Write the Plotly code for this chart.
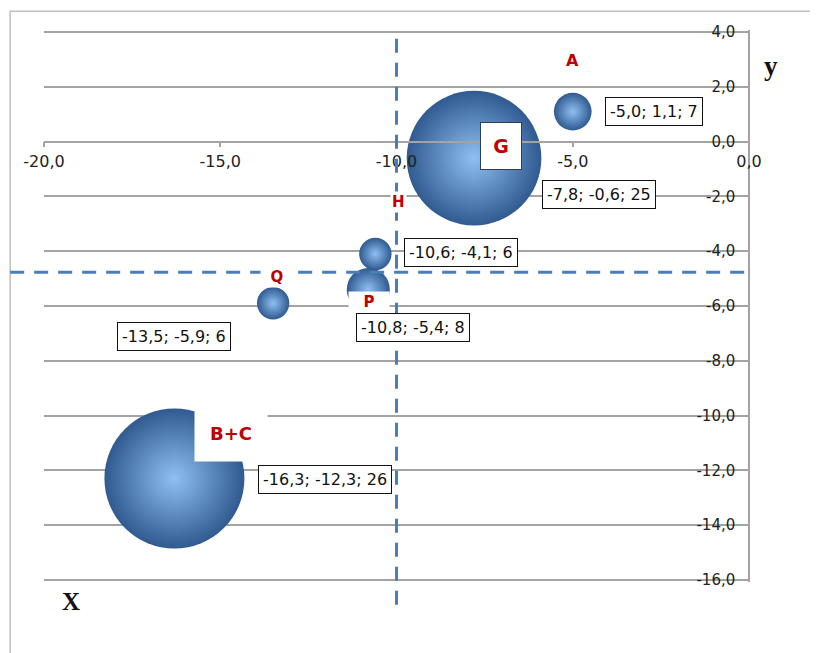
import plotly.graph_objects as go

# ---- data ----
names = ["A", "G", "H", "P", "Q", "B+C"]
x_vals = [-5.0, -7.8, -10.6, -10.8, -13.5, -16.3]
y_vals = [1.1, -0.6, -4.1, -5.4, -5.9, -12.3]
sizes = [7, 25, 6, 8, 6, 26]

x_ticks = [-20, -15, -10, -5, 0]
y_ticks = [4, 2, 0, -2, -4, -6, -8, -10, -12, -14, -16]

x_ref = -10.0    # vertical dashed reference line
y_ref = -4.77    # horizontal dashed reference line


def fmt(v):
    return f"{v:.1f}".replace(".", ",")


x_tick_text = [fmt(v) for v in x_ticks]
y_tick_text = [fmt(v) for v in y_ticks]

x_range = [-20, 0]
y_range = [-16.08, 4.08]
x_axis_pos = (0 - y_range[0]) / (y_range[1] - y_range[0])

# label styling / placement (pixel shifts relative to bubble centre)
name_style = {
    "A":   dict(size=16, dx=0,  dy=51,  w=None, h=None, border=False),
    "G":   dict(size=19, dx=27, dy=12,  w=38,   h=44,   border=True),
    "H":   dict(size=15, dx=23, dy=52,  w=None, h=None, border=False),
    "P":   dict(size=15, dx=1,  dy=-12, w=38,   h=18,   border=False),
    "Q":   dict(size=15, dx=4,  dy=26,  w=30,   h=None, border=False),
    "B+C": dict(size=18, dx=57, dy=46,  w=70,   h=54,   border=False),
}
value_shift = {
    "A": (81, 0), "G": (125, -36), "H": (86, 1),
    "P": (45, -38), "Q": (-99, -33), "B+C": (151, -1),
}

grid_col = "#a3a3a3"
font_fam = "DejaVu Sans"

fig = go.Figure()
fig.add_trace(go.Scatter(
    x=x_vals, y=y_vals, mode="markers",
    marker=dict(
        size=sizes, sizemode="diameter", sizeref=26 / 140,
        color="#305a90",
        gradient=dict(type="radial", color="#8fc0f2"),
        line=dict(width=0), opacity=1,
    ),
    hoverinfo="skip", showlegend=False,
))

annotations = []
for n, xv, yv, s in zip(names, x_vals, y_vals, sizes):
    st = name_style[n]
    a = dict(x=xv, y=yv, xref="x", yref="y", text=f"<b>{n}</b>",
             showarrow=False, xshift=st["dx"], yshift=st["dy"],
             font=dict(family=font_fam, size=st["size"], color="#c00000"),
             bgcolor="white")
    if st["w"]:
        a["width"] = st["w"]
    if st["h"]:
        a["height"] = st["h"]
    if st["border"]:
        a["bordercolor"] = "#2b3f55"
        a["borderwidth"] = 1
    annotations.append(a)
    dx, dy = value_shift[n]
    annotations.append(dict(
        x=xv, y=yv, xref="x", yref="y",
        text=f"{fmt(xv)}; {fmt(yv)}; {s}",
        showarrow=False, xshift=dx, yshift=dy,
        font=dict(family=font_fam, size=16, color="#111111"),
        bgcolor="white", bordercolor="#111111", borderwidth=1, borderpad=4,
    ))

# axis titles
annotations.append(dict(x=1.044, y=0.965, xref="paper", yref="paper", text="<b>y</b>",
                        showarrow=False, font=dict(family="Liberation Serif", size=27, color="#111")))
annotations.append(dict(x=0.023, y=-0.063, xref="paper", yref="paper", text="<b>X</b>",
                        showarrow=False, font=dict(family="Liberation Serif", size=25, color="#111")))

shapes = [
    # outer frame
    dict(type="rect", xref="paper", yref="paper", x0=-0.048, x1=1.2, y0=-0.3, y1=1.034,
         line=dict(color="#bdbdbd", width=1.5), layer="below"),
    # reference lines
    dict(type="line", xref="x", yref="paper", x0=x_ref, x1=x_ref, y0=-0.041, y1=0.99,
         line=dict(color="#4a7ebb", width=3, dash="14px,10px"), layer="above"),
    dict(type="line", xref="paper", yref="y", x0=-0.048, x1=1.0, y0=y_ref, y1=y_ref,
         line=dict(color="#4a7ebb", width=3, dash="14px,10px"), layer="above"),
]

fig.update_layout(
    width=818, height=653,
    # the page body adds an 8px offset, compensated in the left/top margins
    margin=dict(l=36, r=77, t=22, b=79),
    paper_bgcolor="white", plot_bgcolor="white",
    separators=", ",
    font=dict(family=font_fam, color="#222"),
    xaxis=dict(
        range=x_range, tickmode="array", tickvals=x_ticks, ticktext=x_tick_text,
        showgrid=False, zeroline=False, showline=True, linecolor=grid_col, linewidth=1.5,
        ticks="outside", ticklen=5, tickcolor=grid_col, tickwidth=1.5,
        anchor="free", position=x_axis_pos, side="bottom",
        tickfont=dict(family=font_fam, size=16, color="#222"),
    ),
    yaxis=dict(
        range=y_range, tickmode="array", tickvals=y_ticks, ticktext=y_tick_text,
        showgrid=True, gridcolor=grid_col, gridwidth=1.5, zeroline=False,
        showline=True, linecolor=grid_col, linewidth=1.5,
        side="left", anchor="free", position=1.0, ticks="",
        ticklabelstandoff=10,
        tickfont=dict(family=font_fam, size=15, color="#222"),
    ),
    annotations=annotations,
    shapes=shapes,
    showlegend=False,
)

fig.write_html("out.html")
